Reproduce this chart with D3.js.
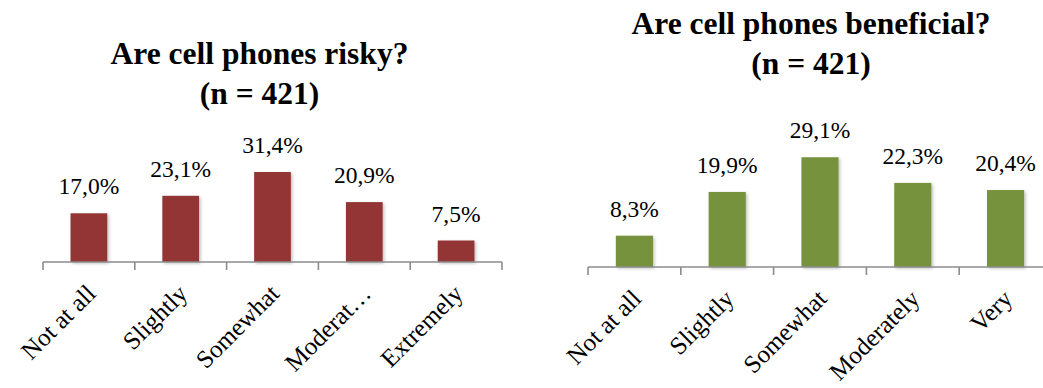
<!DOCTYPE html>
<html>
<head>
<meta charset="utf-8">
<script src="https://cdn.jsdelivr.net/npm/d3@7"></script>
<style>
  html, body { margin: 0; padding: 0; background: #fff; }
  svg text { font-family: 'Liberation Serif', 'Times New Roman', serif; fill: #000; }
</style>
</head>
<body>
<div id="chart"></div>
<script>
// data
const riskyCategories = ['Not at all', 'Slightly', 'Somewhat', 'Moderately', 'Extremely'];
const riskyTickLabels = ['Not at all', 'Slightly', 'Somewhat', 'Moderat\u2026', 'Extremely'];
const riskyValues = [17.0, 23.1, 31.4, 20.9, 7.5];

const benefitCategories = ['Not at all', 'Slightly', 'Somewhat', 'Moderately', 'Very'];
const benefitTickLabels = ['Not at all', 'Slightly', 'Somewhat', 'Moderately', 'Very'];
const benefitValues = [8.3, 19.9, 29.1, 22.3, 20.4];

const titles = [
  ['Are cell phones risky?', '(n = 421)'],
  ['Are cell phones beneficial?', '(n = 421)']
];

const width = 1043;
const height = 388;

const svg = d3.select('#chart')
  .append('svg')
  .attr('width', width)
  .attr('height', height);

const defs = svg.append('defs');
defs.append('filter')
  .attr('id', 'shadow')
  .attr('x', '-20%').attr('y', '-20%')
  .attr('width', '150%').attr('height', '150%')
  .append('feDropShadow')
  .attr('dx', 1.5).attr('dy', 1.5)
  .attr('stdDeviation', 1.5)
  .attr('flood-color', '#000')
  .attr('flood-opacity', 0.25);

const fmt = v => d3.format('.1f')(v).replace('.', ',') + '%';

const drawChart = (cfg) => {
  const g = svg.append('g');

  // band boundaries for axis ticks
  const xAxis = d3.scaleBand()
    .domain(cfg.categories)
    .range([cfg.left, cfg.right])
    .padding(0);

  const x = d3.scaleBand()
    .domain(cfg.categories)
    .range([cfg.left, cfg.right])
    .paddingInner(0.6)
    .paddingOuter(0.3);

  const y = d3.scaleLinear()
    .domain([0, 35])
    .range([cfg.base, cfg.base - cfg.plotH]);

  // title
  const t = g.append('text')
    .attr('text-anchor', 'middle')
    .style('font-weight', 'bold')
    .style('font-size', '31.5px');
  cfg.title.forEach((line, i) => {
    t.append('tspan')
      .attr('x', cfg.titleX)
      .attr('y', cfg.titleY + i * 40)
      .text(line);
  });

  // bars
  g.selectAll('.bar')
    .data(cfg.values)
    .enter()
    .append('rect')
    .attr('class', 'bar')
    .attr('x', (d, i) => x(cfg.categories[i]))
    .attr('width', x.bandwidth())
    .attr('y', d => y(d))
    .attr('height', d => y(0) - y(d))
    .attr('fill', cfg.color)
    .attr('filter', 'url(#shadow)');

  // value labels
  g.selectAll('.val')
    .data(cfg.values)
    .enter()
    .append('text')
    .attr('class', 'val')
    .attr('x', (d, i) => x(cfg.categories[i]) + x.bandwidth() / 2)
    .attr('y', d => y(d) - 19)
    .attr('text-anchor', 'middle')
    .style('font-size', '23.5px')
    .text(fmt);

  // axis line + ticks at category boundaries
  const tickXs = cfg.categories.map(c => xAxis(c)).concat([cfg.right]);
  g.append('line')
    .attr('x1', cfg.left).attr('x2', cfg.right)
    .attr('y1', y(0)).attr('y2', y(0))
    .attr('stroke', '#8c8c8c')
    .attr('stroke-width', 1.6);
  g.selectAll('.tick')
    .data(tickXs)
    .enter()
    .append('line')
    .attr('class', 'tick')
    .attr('x1', d => d).attr('x2', d => d)
    .attr('y1', y(0)).attr('y2', y(0) + 8)
    .attr('stroke', '#8c8c8c')
    .attr('stroke-width', 1.6);

  // rotated category labels
  g.selectAll('.cat')
    .data(cfg.tickLabels)
    .enter()
    .append('text')
    .attr('class', 'cat')
    .attr('text-anchor', 'end')
    .attr('dy', '0.35em')
    .style('font-size', '25px')
    .attr('transform', (d, i) => {
      const cx = xAxis(cfg.categories[i]) + xAxis.bandwidth() / 2 + 2;
      const cy = y(0) + 27;
      return 'translate(' + cx + ',' + cy + ') rotate(-45)';
    })
    .text(d => d);
};

drawChart({
  categories: riskyCategories,
  tickLabels: riskyTickLabels,
  values: riskyValues,
  title: titles[0],
  color: '#943634',
  left: 43, right: 502, base: 262, plotH: 100.3,
  titleX: 259.5, titleY: 64
});

drawChart({
  categories: benefitCategories,
  tickLabels: benefitTickLabels,
  values: benefitValues,
  title: titles[1],
  color: '#76923c',
  left: 588, right: 1052, base: 267, plotH: 132,
  titleX: 811, titleY: 34
});
</script>
</body>
</html>
